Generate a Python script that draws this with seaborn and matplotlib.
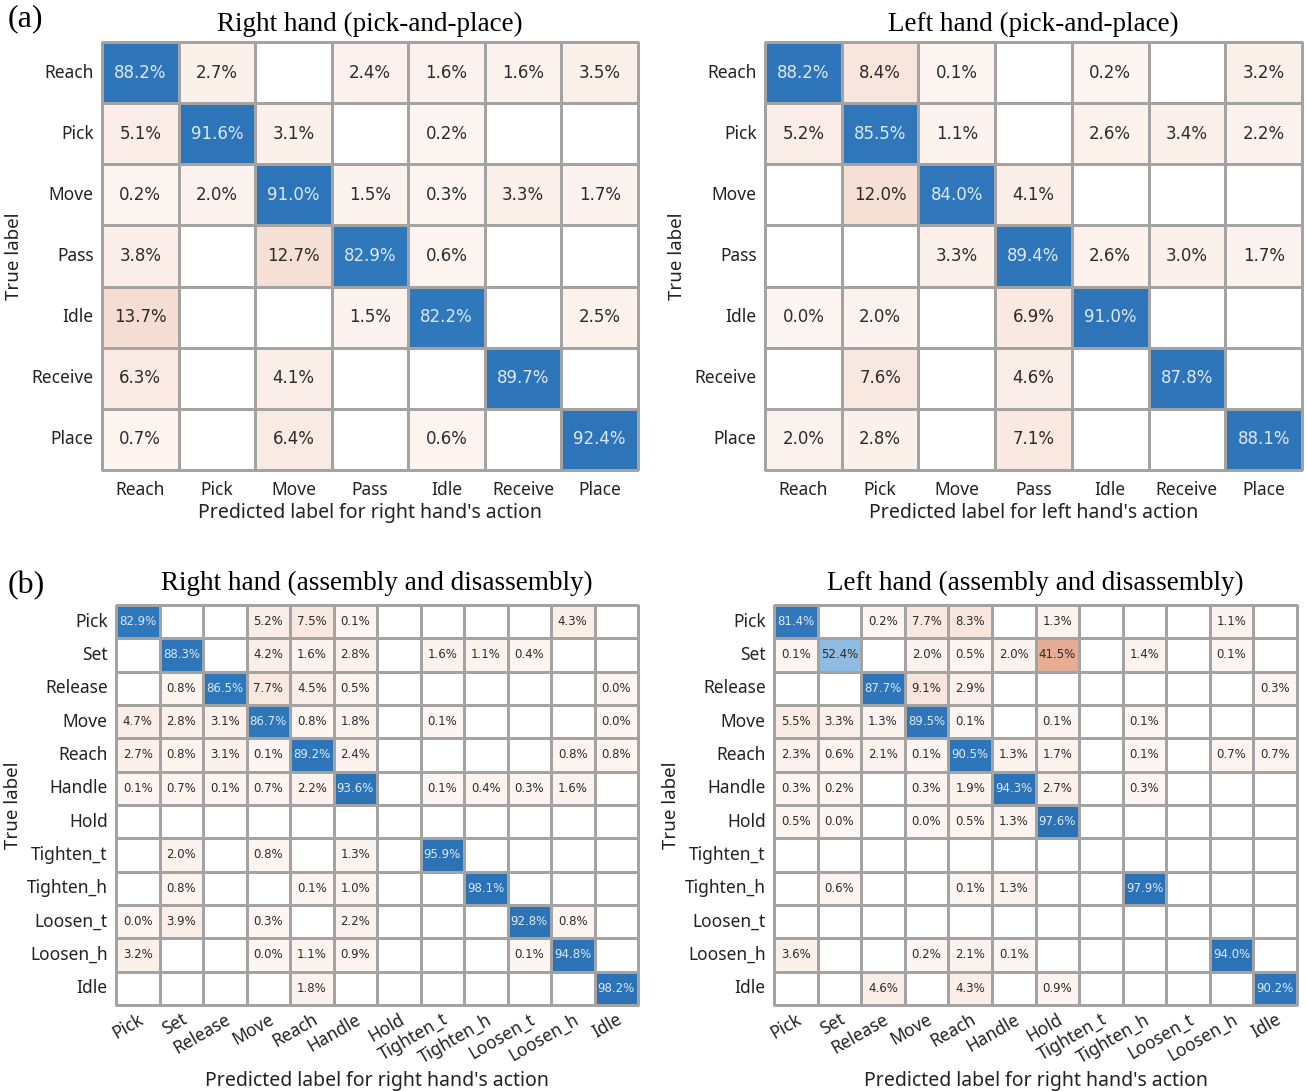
import numpy as np
import pandas as pd
import matplotlib
matplotlib.use("Agg")
import matplotlib.pyplot as plt
import seaborn as sns
from matplotlib.colors import LinearSegmentedColormap, ListedColormap

_ = None  # no predictions in this cell

# ---- pick-and-place task -------------------------------------------------
pp_labels = ["Reach", "Pick", "Move", "Pass", "Idle", "Receive", "Place"]

right_pp = [
    [88.2, 2.7, _, 2.4, 1.6, 1.6, 3.5],
    [5.1, 91.6, 3.1, _, 0.2, _, _],
    [0.2, 2.0, 91.0, 1.5, 0.3, 3.3, 1.7],
    [3.8, _, 12.7, 82.9, 0.6, _, _],
    [13.7, _, _, 1.5, 82.2, _, 2.5],
    [6.3, _, 4.1, _, _, 89.7, _],
    [0.7, _, 6.4, _, 0.6, _, 92.4],
]

left_pp = [
    [88.2, 8.4, 0.1, _, 0.2, _, 3.2],
    [5.2, 85.5, 1.1, _, 2.6, 3.4, 2.2],
    [_, 12.0, 84.0, 4.1, _, _, _],
    [_, _, 3.3, 89.4, 2.6, 3.0, 1.7],
    [0.0, 2.0, _, 6.9, 91.0, _, _],
    [_, 7.6, _, 4.6, _, 87.8, _],
    [2.0, 2.8, _, 7.1, _, _, 88.1],
]

# ---- assembly and disassembly task ---------------------------------------
ad_labels = ["Pick", "Set", "Release", "Move", "Reach", "Handle", "Hold",
             "Tighten_t", "Tighten_h", "Loosen_t", "Loosen_h", "Idle"]

right_ad = [
    [82.9, _, _, 5.2, 7.5, 0.1, _, _, _, _, 4.3, _],
    [_, 88.3, _, 4.2, 1.6, 2.8, _, 1.6, 1.1, 0.4, _, _],
    [_, 0.8, 86.5, 7.7, 4.5, 0.5, _, _, _, _, _, 0.0],
    [4.7, 2.8, 3.1, 86.7, 0.8, 1.8, _, 0.1, _, _, _, 0.0],
    [2.7, 0.8, 3.1, 0.1, 89.2, 2.4, _, _, _, _, 0.8, 0.8],
    [0.1, 0.7, 0.1, 0.7, 2.2, 93.6, _, 0.1, 0.4, 0.3, 1.6, _],
    [_, _, _, _, _, _, _, _, _, _, _, _],
    [_, 2.0, _, 0.8, _, 1.3, _, 95.9, _, _, _, _],
    [_, 0.8, _, _, 0.1, 1.0, _, _, 98.1, _, _, _],
    [0.0, 3.9, _, 0.3, _, 2.2, _, _, _, 92.8, 0.8, _],
    [3.2, _, _, 0.0, 1.1, 0.9, _, _, _, 0.1, 94.8, _],
    [_, _, _, _, 1.8, _, _, _, _, _, _, 98.2],
]

left_ad = [
    [81.4, _, 0.2, 7.7, 8.3, _, 1.3, _, _, _, 1.1, _],
    [0.1, 52.4, _, 2.0, 0.5, 2.0, 41.5, _, 1.4, _, 0.1, _],
    [_, _, 87.7, 9.1, 2.9, _, _, _, _, _, _, 0.3],
    [5.5, 3.3, 1.3, 89.5, 0.1, _, 0.1, _, 0.1, _, _, _],
    [2.3, 0.6, 2.1, 0.1, 90.5, 1.3, 1.7, _, 0.1, _, 0.7, 0.7],
    [0.3, 0.2, _, 0.3, 1.9, 94.3, 2.7, _, 0.3, _, _, _],
    [0.5, 0.0, _, 0.0, 0.5, 1.3, 97.6, _, _, _, _, _],
    [_, _, _, _, _, _, _, _, _, _, _, _],
    [_, 0.6, _, _, 0.1, 1.3, _, _, 97.9, _, _, _],
    [_, _, _, _, _, _, _, _, _, _, _, _],
    [3.6, _, _, 0.2, 2.1, 0.1, _, _, _, _, 94.0, _],
    [_, _, 4.6, _, 4.3, _, 0.9, _, _, _, _, 90.2],
]

# ---- styling -------------------------------------------------------------
SANS = ["Noto Sans", "DejaVu Sans"]
SERIF = ["Liberation Serif", "DejaVu Serif"]
GRID = "#a3a3a3"
LW = 0.75

blue_cmap = LinearSegmentedColormap.from_list(
    "diag", [(0.0, "#ffffff"), (0.52, "#90bde3"), (0.8, "#3079bc"), (1.0, "#2b72b5")])
peach_cmap = LinearSegmentedColormap.from_list(
    "offdiag", [(0.0, "#fdf5f1"), (1.0, "#e4a68c")])

W, H = 1307, 1091
fig = plt.figure(figsize=(W / 100, H / 100), dpi=100)


def px_axes(x0, y0, x1, y1):
    return fig.add_axes([x0 / W, 1 - y1 / H, (x1 - x0) / W, (y1 - y0) / H])


def draw(ax, values, labels, title, xlabel, annot_size, rotate):
    n = len(labels)
    df = pd.DataFrame(np.array(values, dtype=float), index=labels, columns=labels)
    text = df.apply(lambda col: col.map(lambda v: "" if np.isnan(v) else f"{v:.1f}%"))
    diag = pd.DataFrame(np.eye(n, dtype=bool), index=labels, columns=labels)
    empty = df.isna()

    common = dict(linewidths=LW, linecolor=GRID, cbar=False, ax=ax,
                  annot_kws={"size": annot_size, "family": "DejaVu Sans"})
    # white grid for every cell
    sns.heatmap(pd.DataFrame(np.zeros((n, n)), index=labels, columns=labels),
                cmap=ListedColormap(["white"]), linewidths=LW, linecolor=GRID,
                cbar=False, ax=ax)
    # correct predictions on the diagonal
    sns.heatmap(df, mask=~diag | empty, cmap=blue_cmap, vmin=0, vmax=100,
                annot=text, fmt="", **common)
    # confusions off the diagonal
    sns.heatmap(df, mask=diag | empty, cmap=peach_cmap, vmin=0, vmax=45,
                annot=text, fmt="", **common)

    for t in ax.texts:
        if t.get_color() == "w":
            t.set_color("#dde9f6")
        else:
            t.set_color("#2b2b2b")

    for coll in ax.collections:
        coll.set_clip_on(False)

    ax.set_title(title, fontsize=19.5, family=SERIF, pad=8 if not rotate else 11)
    ax.set_ylabel("True label", fontsize=13.5, family=SANS, color="#222222",
                  labelpad=6 if not rotate else 3)
    ax.tick_params(length=0, labelsize=12.5, colors="#222222")
    ax.tick_params(axis="y", pad=6)
    ax.set_yticklabels(labels, rotation=0, family=SANS)
    if rotate:
        ax.set_xticklabels(labels, rotation=30, ha="right", rotation_mode="anchor",
                           family=SANS)
        ax.tick_params(axis="x", pad=4)
        ax.set_xlabel(xlabel, fontsize=14, family=SANS, color="#222222", labelpad=3)
    else:
        ax.set_xticklabels(labels, rotation=0, family=SANS)
        ax.tick_params(axis="x", pad=8)
        ax.set_xlabel(xlabel, fontsize=14, family=SANS, color="#222222", labelpad=3)


ax1 = px_axes(102, 42, 638, 470)
ax2 = px_axes(765, 42, 1302, 470)
ax3 = px_axes(116, 605, 638, 1005)
ax4 = px_axes(774, 605, 1297, 1005)

draw(ax1, right_pp, pp_labels, "Right hand (pick-and-place)",
     "Predicted label for right hand's action", 12, False)
draw(ax2, left_pp, pp_labels, "Left hand (pick-and-place)",
     "Predicted label for left hand's action", 12, False)
draw(ax3, right_ad, ad_labels, "Right hand (assembly and disassembly)",
     "Predicted label for right hand's action", 8.5, True)
draw(ax4, left_ad, ad_labels, "Left hand (assembly and disassembly)",
     "Predicted label for right hand's action", 8.5, True)

fig.text(8 / W, 1 - 19 / H, "(a)", fontsize=23, family=SERIF, va="center", ha="left")
fig.text(8 / W, 1 - 586 / H, "(b)", fontsize=23, family=SERIF, va="center", ha="left")

fig.savefig("out.png", dpi=100, facecolor="white")
